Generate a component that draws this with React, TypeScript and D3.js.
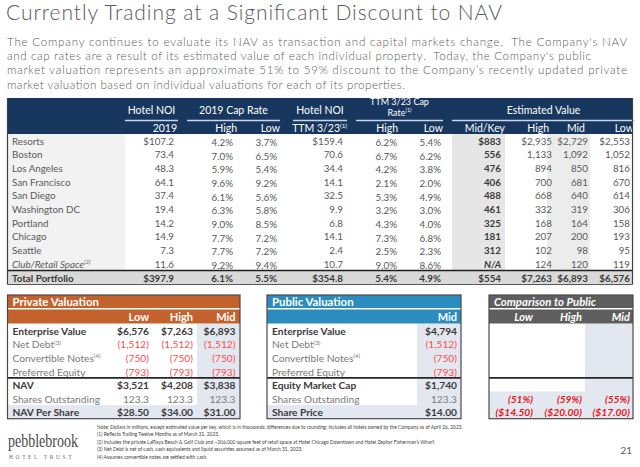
import React from 'react';
import * as d3 from 'd3';

const W = 640;
const H = 467;
const FONT = "Lato, 'Liberation Sans', sans-serif";

// ---------- text ----------
const titleText = 'Currently Trading at a Significant Discount to NAV';
const paragraphLines = [
  "The Company continues to evaluate its NAV as transaction and capital markets change.  The Company's NAV",
  "and cap rates are a result of its estimated value of each individual property.  Today, the Company's public",
  'market valuation represents an approximate 51% to 59% discount to the Company\u2019s recently updated private',
  'market valuation based on individual valuations for each of its properties.',
];
const footnotes = [
  'Note: Dollars in millions, except estimated value per key, which is in thousands; differences due to rounding; includes all hotels owned by the Company as of April 26, 2023.',
  '(1) Reflects Trailing Twelve Months as of March 31, 2023.',
  '(2) Includes the private LaPlaya Beach & Golf Club and ~206,000 square feet of retail space at Hotel Chicago Downtown and Hotel Zephyr Fisherman\u2019s Wharf.',
  '(3) Net Debt is net of cash, cash equivalents and liquid securities assumed as of March 31, 2023.',
  '(4) Assumes convertible notes are settled with cash.',
];

// ---------- main table data ----------
const properties = ['Resorts', 'Boston', 'Los Angeles', 'San Francisco', 'San Diego', 'Washington DC', 'Portland', 'Chicago', 'Seattle', 'Club/Retail Space'];
const noi2019 = [107.2, 73.4, 48.3, 64.1, 37.4, 19.4, 14.2, 14.9, 7.3, 11.6];
const cap2019High = [4.2, 7.0, 5.9, 9.6, 6.1, 6.3, 9.0, 7.7, 7.7, 9.2];
const cap2019Low = [3.7, 6.5, 5.4, 9.2, 5.6, 5.8, 8.5, 7.2, 7.2, 9.4];
const noiTTM = [159.4, 70.6, 34.4, 14.1, 32.5, 9.9, 6.8, 14.1, 2.4, 10.7];
const capTTMHigh = [6.2, 6.7, 4.2, 2.1, 5.3, 3.2, 4.3, 7.3, 2.5, 9.0];
const capTTMLow = [5.4, 6.2, 3.8, 2.0, 4.9, 3.0, 4.0, 6.8, 2.3, 8.6];
const valuePerKey = [883, 556, 476, 406, 488, 461, 325, 181, 312, null];
const estValueHigh = [2935, 1133, 894, 700, 668, 332, 168, 207, 102, 124];
const estValueMid = [2729, 1092, 850, 681, 640, 319, 164, 200, 98, 120];
const estValueLow = [2553, 1052, 816, 670, 614, 306, 158, 193, 95, 119];
const totalLabel = 'Total Portfolio';
const totalRow = [397.9, 6.1, 5.5, 354.8, 5.4, 4.9, 554, 7263, 6893, 6576];

const groupLabels = [['Hotel NOI'], ['2019 Cap Rate'], ['Hotel NOI'], ['TTM 3/23 Cap', 'Rate'], ['Estimated Value']];
const subHeaders = ['2019', 'High', 'Low', 'TTM 3/23', 'High', 'Low', 'Mid/Key', 'High', 'Mid', 'Low'];
const colTypes = ['noi', 'pct', 'pct', 'noi', 'pct', 'pct', 'int', 'int', 'int', 'int'];

// ---------- valuation panels ----------
const panelLabels = ['Enterprise Value', 'Net Debt', 'Convertible Notes', 'Preferred Equity', 'NAV', 'Shares Outstanding', 'NAV Per Share'];
const panelSups = ['', '(3)', '(4)', '', '', '', ''];
const publicLabels = ['Enterprise Value', 'Net Debt', 'Convertible Notes', 'Preferred Equity', 'Equity Market Cap', 'Shares Outstanding', 'Share Price'];
const privateHeaders = ['Low', 'High', 'Mid'];
const privateLow = [6576, -1512, -750, -793, 3521, 123.3, 28.5];
const privateHigh = [7263, -1512, -750, -793, 4208, 123.3, 34.0];
const privateMid = [6893, -1512, -750, -793, 3838, 123.3, 31.0];
const publicMid = [4794, -1512, -750, -793, 1740, 123.3, 14.0];
const discountPct = [-51, -59, -55];
const discountPrice = [-14.5, -20.0, -17.0];

// ---------- layout (not data) ----------
const colRight = [174, 233, 277, 343, 397, 441, 501, 552, 588, 630];
const colHeadRight = [177, 237, 280, 347, 398, 443, 505, 549, 585, 634];
const groupSpans = [[125, 178], [187, 280], [293, 347], [356, 443], [452, 635]];
const paragraphWidths = [620, 584, 620, 398];
const panelRowKind = ['bold', 'neg', 'neg', 'neg', 'bold', 'plain', 'bold'];

const C = {
  navy: '#17375e',
  text: '#595959',
  dark: '#3a3a3a',
  orange: '#c4622d',
  blue: '#2b8cbf',
  gray: '#5e5e5e',
  neg: '#ff4d4d',
  red: '#e8141b',
  shade: '#e3e8f0',
};

const TFS = 9.8; // table font size
const PFS = 10.2; // panel font size

const f1 = d3.format(',.1f');
const f0 = d3.format(',');
const f2 = d3.format(',.2f');

function fmtMain(v: number | null, type: string, dollar: boolean) {
  if (v == null) return 'N/A';
  if (type === 'pct') return d3.format('.1f')(v) + '%';
  if (type === 'noi') return (dollar ? '$' : '') + f1(v);
  return (dollar ? '$' : '') + f0(v);
}

function fmtPanel(v: number, row: number) {
  if (v < 0) return '(' + f0(-v) + ')';
  if (row === 5) return f1(v);
  if (row === 6) return '$' + f2(v);
  return '$' + f0(v);
}

function Sup({ t }: { t: string }) {
  if (!t) return null;
  return (
    <tspan fontSize="0.6em" dy="-0.45em">
      {t}
    </tspan>
  );
}

type PanelProps = {
  x0: number;
  x1: number;
  title: string;
  barColor: string;
  italicHead?: boolean;
  headers: string[];
  rights: number[];
  shadeX: number;
  labels?: string[];
  columns: number[][];
  comparison?: boolean;
};

function Panel(p: PanelProps) {
  const top = 295;
  const rowBand = d3.scaleBand<number>().domain(d3.range(7)).range([323.5, 418.7]);
  const bottom = 418.7;
  const rh = rowBand.bandwidth();
  return (
    <g>
      <rect x={p.shadeX} y={323.5} width={p.x1 - p.shadeX} height={bottom - 323.5} fill={C.shade} />
      <rect x={p.x0} y={rowBand(6)!} width={p.x1 - p.x0} height={rh} fill={C.shade} />
      {p.comparison && <rect x={p.x0} y={rowBand(5)!} width={p.x1 - p.x0} height={rh} fill={C.shade} />}
      <rect x={p.x0} y={top} width={p.x1 - p.x0} height={13} fill={p.barColor} />
      <text x={p.x0 + 5} y={top + 6.8} dominantBaseline="central" fill="#fff" fontWeight={700} fontStyle={p.italicHead ? 'italic' : 'normal'} fontSize={11.4}>
        {p.title}
      </text>
      <rect x={p.x0} y={309.5} width={p.x1 - p.x0} height={14} fill={p.barColor} />
      {p.headers.map((h, i) => (
        <text key={h} x={p.rights[i]} y={316.7} textAnchor="end" dominantBaseline="central" fill="#fff" fontWeight={700} fontStyle={p.italicHead ? 'italic' : 'normal'} fontSize={11}>
          {h}
        </text>
      ))}
      {d3.range(7).map((r) => {
        const cy = rowBand(r)! + rh / 2 + 0.5;
        const kind = panelRowKind[r];
        return (
          <g key={r}>
            {p.labels && (
              <text x={p.x0 + 5} y={cy} dominantBaseline="central" fontSize={PFS} fontWeight={kind === 'bold' ? 700 : 400} fill={kind === 'bold' ? C.dark : '#7a7a7a'}>
                {p.labels[r]}
                <Sup t={panelSups[r]} />
              </text>
            )}
            {p.columns.map((col, ci) => {
              const v = col[r];
              return (
                <text key={ci} x={p.rights[ci]} y={cy} textAnchor="end" dominantBaseline="central" fontSize={PFS} fontWeight={kind === 'bold' ? 700 : 400} fill={v < 0 ? C.neg : kind === 'bold' ? C.dark : '#7a7a7a'}>
                  {fmtPanel(v, r)}
                </text>
              );
            })}
          </g>
        );
      })}
      {p.comparison &&
        discountPct.map((v, i) => (
          <g key={'c' + i}>
            <text x={p.rights[i]} y={rowBand(5)! + rh / 2 + 0.5} textAnchor="end" dominantBaseline="central" fontSize={PFS} fontWeight={700} fontStyle="italic" fill={C.red}>
              {'(' + Math.abs(v) + '%)'}
            </text>
            <text x={p.rights[i]} y={rowBand(6)! + rh / 2 + 0.5} textAnchor="end" dominantBaseline="central" fontSize={PFS} fontWeight={700} fontStyle="italic" fill={C.red}>
              {'($' + f2(Math.abs(discountPrice[i])) + ')'}
            </text>
          </g>
        ))}
      <line x1={p.x0} x2={p.x1} y1={rowBand(4)!} y2={rowBand(4)!} stroke="#262626" strokeWidth={1.6} />
      <rect x={p.x0} y={top} width={p.x1 - p.x0} height={bottom - top} fill="none" stroke="#4a4a4a" strokeWidth={1.2} />
    </g>
  );
}

export default function App() {
  const columns = [noi2019, cap2019High, cap2019Low, noiTTM, capTTMHigh, capTTMLow, valuePerKey, estValueHigh, estValueMid, estValueLow];
  const rowBand = d3.scaleBand<number>().domain(d3.range(properties.length)).range([134, 270.5]);
  const rh = rowBand.bandwidth();
  const tableTop = 98;
  const headBottom = 134;
  const totalTop = 270.5;
  const totalBottom = 284.5;
  const x0 = 7.5;
  const x1 = 632.5;

  return (
    <svg width={W} height={H} viewBox={`0 0 ${W} ${H}`} style={{ position: 'absolute', left: 0, top: 0, background: '#fff' }} fontFamily={FONT}>
      <rect width={W} height={H} fill="#fff" />
      <text x={6} y={20} fontSize={21} fill="#5a5a5a" fontWeight={300} textLength={496} lengthAdjust="spacing">
        {titleText}
      </text>
      {paragraphLines.map((l, i) => (
        <text key={i} x={7} y={45.5 + i * 14.4} fontSize={11.6} fontWeight={300} fill="#5a5a5a" style={{ whiteSpace: 'pre' }} textLength={paragraphWidths[i]} lengthAdjust="spacing">
          {l}
        </text>
      ))}

      {/* ---------- main table ---------- */}
      <rect x={x0} y={tableTop} width={x1 - x0} height={headBottom - tableTop} fill={C.navy} />
      <rect x={x0} y={headBottom} width={125 - x0} height={totalTop - headBottom} fill="#f2f2f2" />
      <rect x={452} y={headBottom} width={53} height={totalTop - headBottom} fill="#e6e6e6" />
      <rect x={547} y={headBottom} width={43} height={totalTop - headBottom} fill="#ececec" />
      <rect x={x0} y={totalTop} width={x1 - x0} height={totalBottom - totalTop} fill="#d9d9d9" />

      {groupLabels.map((g, i) => {
        const [a, b] = groupSpans[i];
        const cx = (a + b) / 2;
        return (
          <g key={i}>
            {g.length === 1 ? (
              <text x={cx} y={110} textAnchor="middle" dominantBaseline="central" fill="#fff" fontSize={10.5}>
                {g[0]}
              </text>
            ) : (
              <>
                <text x={cx} y={101.5} textAnchor="middle" dominantBaseline="central" fill="#fff" fontSize={9}>
                  {g[0]}
                </text>
                <text x={cx} y={112} textAnchor="middle" dominantBaseline="central" fill="#fff" fontSize={9}>
                  {g[1]}
                  <Sup t="(1)" />
                </text>
              </>
            )}
            <line x1={a} x2={b} y1={120.5} y2={120.5} stroke="#c9d6ea" strokeWidth={1.3} />
          </g>
        );
      })}
      {subHeaders.map((h, i) => (
        <text key={i} x={colHeadRight[i]} y={128} textAnchor="end" dominantBaseline="central" fill="#fff" fontSize={10.5}>
          {h}
          {i === 3 && <Sup t="(1)" />}
        </text>
      ))}

      {properties.map((name, r) => {
        const cy = rowBand(r)! + rh / 2;
        const last = r === properties.length - 1;
        return (
          <g key={name}>
            <text x={12} y={cy} dominantBaseline="central" fontSize={TFS} fill={C.text} fontStyle={last ? 'italic' : 'normal'}>
              {name}
              {last && <Sup t="(2)" />}
            </text>
            {columns.map((col, ci) => {
              const type = colTypes[ci];
              const bold = ci === 6;
              return (
                <text
                  key={ci}
                  x={colRight[ci]}
                  y={cy + (type === 'pct' ? 1.2 : 0)}
                  textAnchor="end"
                  dominantBaseline="central"
                  fontSize={TFS}
                  fontWeight={bold ? 700 : 400}
                  fontStyle={col[r] == null ? 'italic' : 'normal'}
                  fill={bold ? C.dark : C.text}
                >
                  {fmtMain(col[r] as number | null, type, r === 0)}
                </text>
              );
            })}
          </g>
        );
      })}

      <text x={12} y={(totalTop + totalBottom) / 2} dominantBaseline="central" fontSize={TFS} fontWeight={700} fill={C.dark}>
        {totalLabel}
      </text>
      {totalRow.map((v, ci) => (
        <text key={ci} x={colRight[ci]} y={(totalTop + totalBottom) / 2} textAnchor="end" dominantBaseline="central" fontSize={TFS} fontWeight={700} fill={C.dark}>
          {fmtMain(v, colTypes[ci], colTypes[ci] !== 'pct')}
        </text>
      ))}
      <line x1={x0} x2={x1} y1={totalTop} y2={totalTop} stroke="#1e1e1e" strokeWidth={1.6} />
      <line x1={x0} x2={x1} y1={totalBottom} y2={totalBottom} stroke="#5a5a5a" strokeWidth={1} />
      <line x1={x0} x2={x0} y1={tableTop} y2={totalBottom} stroke="#404040" strokeWidth={1.2} />
      <line x1={x1} x2={x1} y1={tableTop} y2={totalBottom} stroke="#404040" strokeWidth={1.2} />

      {/* ---------- panels ---------- */}
      <Panel x0={7.5} x1={240} title="Private Valuation" barColor={C.orange} headers={privateHeaders} rights={[149, 193, 235.5]} shadeX={197} labels={panelLabels} columns={[privateLow, privateHigh, privateMid]} />
      <Panel x0={267} x1={461} title="Public Valuation" barColor={C.blue} headers={['Mid']} rights={[457]} shadeX={417} labels={publicLabels} columns={[publicMid]} />
      <Panel x0={489} x1={633} title="Comparison to Public" barColor={C.gray} italicHead headers={privateHeaders} rights={[533, 582, 630]} shadeX={585} columns={[]} comparison />

      {/* ---------- footer ---------- */}
      {footnotes.map((f, i) => (
        <text key={i} x={97} y={429 + i * 7.4} fontSize={4.9} fill="#404040">
          {f}
        </text>
      ))}
      <text transform="translate(8,447) scale(1,1.3)" fontSize={14} fill="#4a4a4a" fontFamily="'Liberation Serif', serif">
        pebblebrook
      </text>
      <text x={9} y={459} fontSize={5.5} fill="#6a6a6a" fontFamily="'Liberation Serif', serif" letterSpacing={2.6}>
        HOTEL TRUST
      </text>
      <text x={632} y={454} textAnchor="end" fontSize={10} fill="#595959">
        21
      </text>
    </svg>
  );
}
